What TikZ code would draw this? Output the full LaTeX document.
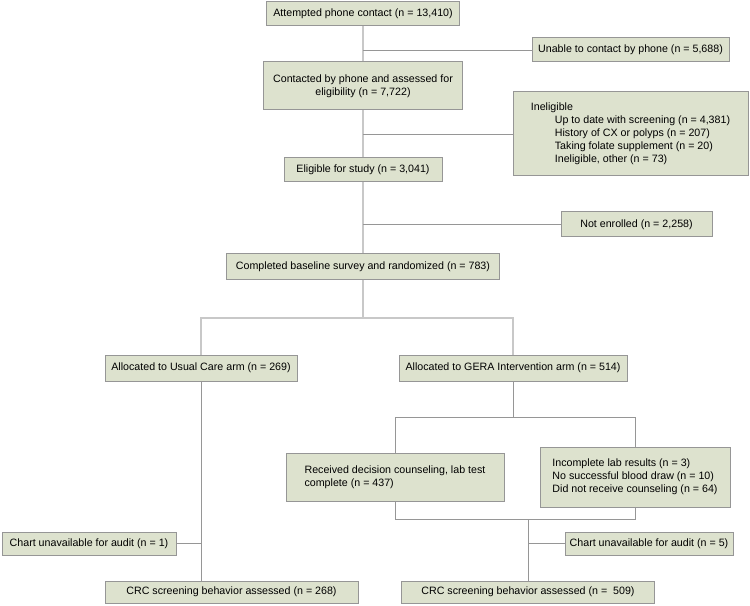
\documentclass[tikz,border=0pt]{standalone}
\usepackage{fontspec}
\setmainfont{Liberation Sans}
\usepackage{xcolor}
\usepackage{tikz}
\usetikzlibrary{positioning}

\definecolor{boxfill}{RGB}{221,226,206}
\definecolor{boxline}{RGB}{150,150,150}
\definecolor{trunkgray}{RGB}{200,200,200}
\definecolor{branchgray}{RGB}{150,150,150}

\begin{document}
\begin{tikzpicture}[
    x=0.75pt, y=-0.75pt,
    block/.style={rectangle, draw=boxline, fill=boxfill, line width=0.75pt, minimum height=18pt, inner sep=2pt, align=center, font=\fontsize{8}{9.75}\selectfont},
    note/.style={block, align=left},
    trunk/.style={draw=trunkgray, line width=1.2pt},
    branch/.style={draw=branchgray, line width=0.7pt}
]
\useasboundingbox (0,0) rectangle (750,606);

% main column
\node[block, minimum width=144.75pt] (contact) at (363,14) {Attempted phone contact (n = 13,410)};
\node[block, minimum width=147.75pt] (unable) at (630.5,50) {Unable to contact by phone (n = 5,688)};
\node[block, minimum width=149.25pt, minimum height=36pt] (assessed) at (363,86) {Contacted by phone and assessed for\\eligibility (n = 7,722)};
\node[note, minimum width=176.25pt, minimum height=63pt] (inelig) at (630.5,134) {Ineligible\\
    \hspace*{18pt}Up to date with screening (n = 4,381)\\
    \hspace*{18pt}History of CX or polyps (n = 207)\\
    \hspace*{18pt}Taking folate supplement (n = 20)\\
    \hspace*{18pt}Ineligible, other (n = 73)};
\node[block, minimum width=118.5pt] (eligible) at (363,170) {Eligible for study (n = 3,041)};
\node[block, minimum width=113.25pt, minimum height=18.75pt] (notenr) at (636.5,224.5) {Not enrolled (n = 2,258)};
\node[block, minimum width=204.75pt, minimum height=18.75pt] (random) at (363,266.5) {Completed baseline survey and randomized (n = 783)};

% two arms
\node[block, minimum width=144pt, minimum height=19.5pt] (usual) at (201,368) {Allocated to Usual Care arm (n = 269)};
\node[block, minimum width=171pt, minimum height=19.5pt] (gera) at (513,368) {Allocated to GERA Intervention arm (n = 514)};
\node[note, minimum width=163.5pt, minimum height=36pt] (received) at (395,477) {Received decision counseling, lab test\\complete (n = 437)};
\node[note, minimum width=142.5pt, minimum height=45pt] (incompl) at (635,477) {Incomplete lab results (n = 3)\\No successful blood draw (n = 10)\\Did not receive counseling (n = 64)};
\node[block, minimum width=130.5pt, minimum height=17.25pt] (chart1) at (89,543.5) {Chart unavailable for audit (n = 1)};
\node[block, minimum width=126pt, minimum height=17.25pt] (chart5) at (649,543.5) {Chart unavailable for audit (n = 5)};
\node[block, minimum width=189.75pt, minimum height=16.5pt] (crc1) at (231.5,592) {CRC screening behavior assessed (n = 268)};
\node[block, minimum width=189.75pt, minimum height=16.5pt] (crc2) at (528,592) {CRC screening behavior assessed (n =~ 509)};

\coordinate (split) at (363,318);
\coordinate (gsplit) at (513,417);
\coordinate (merge) at (528,519);

% connectors
\draw[trunk] (contact) -- (assessed);
\draw[trunk] (assessed) -- (eligible);
\draw[trunk] (eligible) -- (random);
\draw[trunk] (random) -- (split);
\draw[trunk] (usual.north) -- (usual |- split) -- (gera |- split) -- (gera.north);
\draw[branch] (contact |- unable) -- (unable.west);
\draw[branch] (assessed |- inelig) -- (inelig.west);
\draw[branch] (eligible |- notenr) -- (notenr.west);

\draw[branch] (usual.south) -- (usual |- crc1.north);
\draw[branch] (chart1.east) -- (usual |- chart1);

\draw[branch] (gera.south) -- (gsplit);
\draw[branch] (received.north) -- (received |- gsplit) -- (incompl |- gsplit) -- (incompl.north);
\draw[branch] (received.south) -- (received |- merge) -- (incompl |- merge) -- (incompl.south);
\draw[branch] (merge) -- (crc2.north);
\draw[branch] (merge |- chart5) -- (chart5.west);

\end{tikzpicture}
\end{document}
